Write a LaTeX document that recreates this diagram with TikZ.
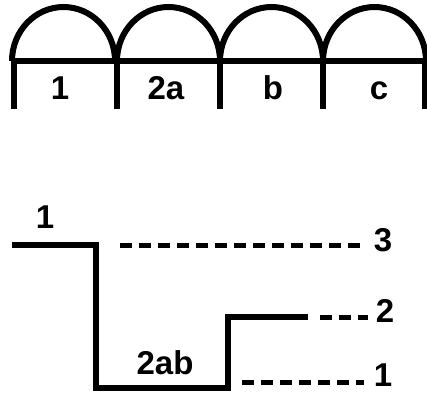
\documentclass[tikz,border=0pt]{standalone}
\usepackage{fontspec}
\setmainfont{Liberation Sans}
\usepackage{amsmath}

\begin{document}
\begin{tikzpicture}[scale=0.03514]
\tikzstyle{every node}+=[inner sep=0pt, anchor=base, font=\fontsize{33}{33}\selectfont\bfseries]
\tikzstyle{wall}=[black, line width=6pt]
\tikzstyle{level}=[black, line width=5pt, dash pattern=on 12pt off 7pt]
\useasboundingbox (0,0) rectangle (427,-392);
% arches on top
\draw [wall] (12,-61) -- (427,-61);
\foreach \x in {12,117,220,323}
  \draw [wall] (\x,-61) arc (180:0:51.5 and 54);
\foreach \x in {14,117,220,323,425}
  \draw [wall] (\x,-61) -- (\x,-109);
\draw (60,-99) node (t1) {1};
\draw (166,-99) node (t2a) {2a};
\draw (273,-99) node (tb) {b};
\draw (379,-99) node (tc) {c};
% profile below
\coordinate (p0) at (12,-245);
\coordinate (p1) at (96,-245);
\coordinate (p2) at (96,-388);
\coordinate (p3) at (228,-388);
\coordinate (p4) at (228,-317);
\coordinate (p5) at (308,-317);
\draw [wall, line join=miter] (p0) -- (p1) -- (p2) -- (p3) -- (p4) -- (p5);
\draw (45,-228) node (lone) {1};
\draw (165,-374) node (ltwoab) {2ab};
\draw (383,-251) node (lthree) {3};
\draw (385,-322) node (ltwo) {2};
\draw (383,-386) node (lonelow) {1};
% dashed levels
\coordinate (d3) at (120,-245);
\coordinate (d2) at (320,-317);
\coordinate (d1) at (242,-382);
\coordinate (e3) at (363,-245);
\coordinate (e2) at (368,-317);
\coordinate (e1) at (364,-382);
\draw [level] (d3) -- (e3);
\draw [level] (d2) -- (e2);
\draw [level] (d1) -- (e1);
\end{tikzpicture}
\end{document}
